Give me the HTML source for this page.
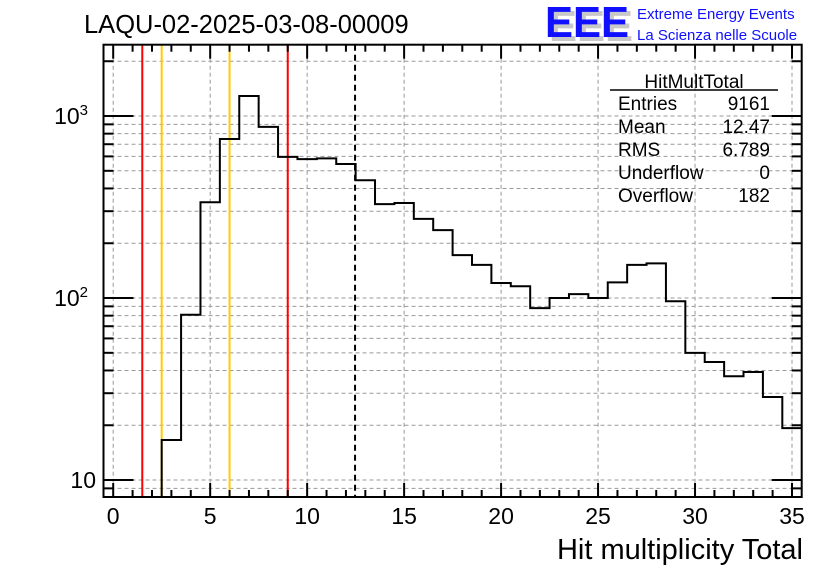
<!DOCTYPE html>
<html><head><meta charset="utf-8"><style>
body{margin:0;background:#fff}
svg{display:block;font-family:"Liberation Sans",sans-serif}
</style></head><body>
<svg id="c" width="836" height="572" viewBox="0 0 836 572">
<text x="84" y="33" font-size="25.5">LAQU-02-2025-03-08-00009</text>
<g>
<text x="549" y="41" font-size="44" font-weight="bold" fill="#c8c8c8" textLength="84" lengthAdjust="spacingAndGlyphs">EEE</text>
<text x="545" y="37" font-size="44" font-weight="bold" fill="#1010ff" textLength="84" lengthAdjust="spacingAndGlyphs">EEE</text>
<text x="637" y="19" font-size="15" fill="#1010ff">Extreme Energy Events</text>
<text x="637" y="40" font-size="15" fill="#1010ff">La Scienza nelle Scuole</text>
</g>
<g id="grid"></g>
<g id="vlines"></g>
<path id="hist" fill="none" stroke="#000" stroke-width="2"/>
<g id="axes"></g>
<g font-size="19">
<text x="694" y="88" text-anchor="middle">HitMultTotal</text>
<line x1="610" y1="90" x2="778" y2="90" stroke="#000" stroke-width="1.5"/>
<text x="618" y="110">Entries</text><text x="770" y="110" text-anchor="end">9161</text>
<text x="618" y="133">Mean</text><text x="770" y="133" text-anchor="end">12.47</text>
<text x="618" y="156">RMS</text><text x="770" y="156" text-anchor="end">6.789</text>
<text x="618" y="179">Underflow</text><text x="770" y="179" text-anchor="end">0</text>
<text x="618" y="202">Overflow</text><text x="770" y="202" text-anchor="end">182</text>
</g>
<text x="803" y="559" font-size="29" text-anchor="end">Hit multiplicity Total</text>
</svg>
<script>
const binCenters=[3,4,5,6,7,8,9,10,11,12,13,14,15,16,17,18,19,20,21,22,23,24,25,26,27,28,29,30,31,32,33,34,35];
const binCounts=[16.6,81,336,748,1288,871,596,580,585,545,444,328,333,272,236,172,152,121,116,88,100,105,100,122,152,155,96,50,44.5,37.2,39.2,28.6,19.3];
const xTicks=[0,5,10,15,20,25,30,35];
const yTickLabels=[10,100,1000];
const markerLines=[{x:1.5,c:"#ff0000"},{x:2.5,c:"#ffcc00"},{x:6,c:"#ffcc00"},{x:9,c:"#ff0000"},{x:12.47,c:"#000",dash:true}];
const L=103.5,R=801.7,T=44.7,B=497,XMIN=-0.5,XMAX=35.5,YMIN=Math.log10(8.07),YMAX=Math.log10(2465);
const X=v=>L+(v-XMIN)/(XMAX-XMIN)*(R-L);
const Y=v=>B-(Math.log10(v)-YMIN)/(YMAX-YMIN)*(B-T);
const NS="http://www.w3.org/2000/svg";
function mk(p,tag,a){const e=document.createElementNS(NS,tag);for(const k in a)e.setAttribute(k,a[k]);p.appendChild(e);return e;}
const grid=document.getElementById('grid'),axes=document.getElementById('axes'),vl=document.getElementById('vlines');
xTicks.forEach(t=>{const e=mk(grid,'line',{x1:X(t),x2:X(t),y1:T,y2:B,stroke:'#999','stroke-dasharray':'4,3'});

});
for(let d=0;d<=3;d++)for(let m=1;m<=9;m++){const val=m*Math.pow(10,d);if(val<8.07||val>2465)continue;
const e=mk(grid,'line',{x1:L,x2:R,y1:Y(val),y2:Y(val),stroke:'#999','stroke-dasharray':'4,3'});


const len=m===1?30:10;
mk(axes,'line',{x1:L,x2:L+len,y1:Y(val),y2:Y(val),stroke:'#000','stroke-width':2});
mk(axes,'line',{x1:R,x2:R-len,y1:Y(val),y2:Y(val),stroke:'#000','stroke-width':2});}
markerLines.forEach(m=>{const e=mk(vl,'line',{x1:X(m.x),x2:X(m.x),y1:T,y2:B,stroke:m.c,'stroke-width':2});
if(m.dash)e.setAttribute('stroke-dasharray','6,4');

});
let d='M'+X(binCenters[0]-0.5)+','+B;
binCenters.forEach((c,i)=>{const y=Y(binCounts[i]);d+=' L'+X(c-0.5)+','+y+' L'+Math.min(X(c+0.5),R)+','+y;});
document.getElementById('hist').setAttribute('d',d);
const f=mk(axes,'rect',{x:L,y:T,width:R-L,height:B-T,fill:'none',stroke:'#000','stroke-width':2});


for(let v=0;v<=35;v++){const len=v%5===0?14:7;
mk(axes,'line',{x1:X(v),x2:X(v),y1:B,y2:B-len,stroke:'#000','stroke-width':2});
mk(axes,'line',{x1:X(v),x2:X(v),y1:T,y2:T+len,stroke:'#000','stroke-width':2});}
xTicks.forEach(t=>{const e=mk(axes,'text',{x:X(t),y:524,'font-size':23,'text-anchor':'middle'});e.textContent=t;

});
yTickLabels.forEach(v=>{const e=mk(axes,'text',{x:96,y:Y(v)+8,'font-size':23,'text-anchor':'end'});
const p=Math.round(Math.log10(v));
if(p===1){e.textContent='10';}else{e.setAttribute('x',88);e.textContent='10';const s=mk(e,'tspan',{dy:-9,'font-size':15});s.textContent=p;}

});
</script>
</body></html>
